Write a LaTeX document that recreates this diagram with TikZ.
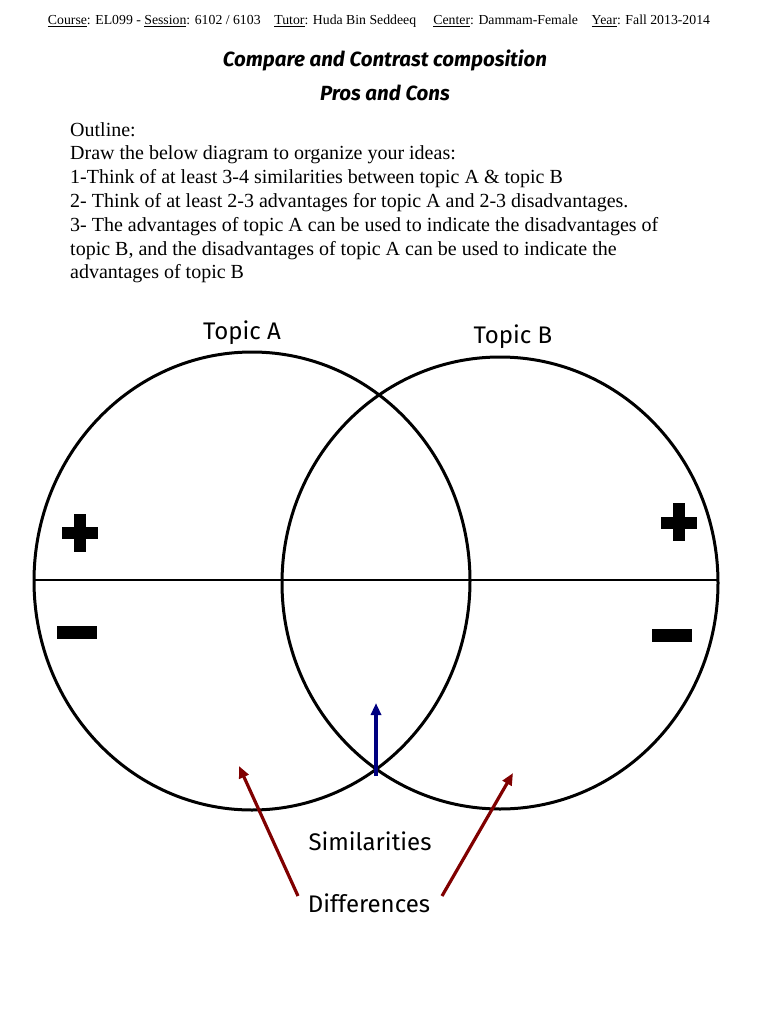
\documentclass[tikz,border=0pt]{standalone}
\usepackage{fontspec}
\setmainfont{Liberation Serif}
\newfontfamily\lbl{Fira Sans}
\newfontfamily\lblm{Fira Sans Medium}
\usetikzlibrary{arrows.meta}
\definecolor{darkred}{RGB}{128,0,0}
\definecolor{navy}{RGB}{0,0,128}
\tikzset{
 circ/.style={draw=black,line width=3pt},
 lab/.style={font=\lbl\fontsize{24}{28}\selectfont,inner sep=0},
 ttl/.style={font=\lbl\bfseries\itshape\fontsize{20.5}{24}\selectfont,inner sep=0},
 redarr/.style={draw=darkred,line width=3.2pt,-{Triangle[length=12pt,width=10pt]}},
 bluearr/.style={draw=navy,line width=3.2pt,-{Triangle[length=12pt,width=10pt]}},
 sym/.style={fill=black,draw=none}
}
\begin{document}
\begin{tikzpicture}[x=1pt,y=-1pt]
\useasboundingbox (0,0) rectangle (768,1024);
\node[inner sep=0,anchor=center] (hdr) at (379,21) {\resizebox{662pt}{!}{\fontsize{14}{16}\selectfont\underline{Course}: EL099 - \underline{Session}: 6102 / 6103\quad \underline{Tutor}: Huda Bin Seddeeq\quad\ \underline{Center}: Dammam-Female\quad \underline{Year}: Fall 2013-2014}};
\node[ttl] (t1) at (385,60) {Compare and Contrast composition};
\node[ttl] (t2) at (385,93) {Pros and Cons};
\node[anchor=north west,inner sep=0,align=left,font=\fontsize{20}{23.8}\selectfont] (outl) at (70,122) {Outline:\\
Draw the below diagram to organize your ideas:\\
1-Think of at least 3-4 similarities between topic A \& topic B\\
2- Think of at least 2-3 advantages for topic A and 2-3 disadvantages.\\
3- The advantages of topic A can be used to indicate the disadvantages of\\
topic B, and the disadvantages of topic A can be used to indicate the\\
advantages of topic B};
\draw[circ] (252,581) ellipse [x radius=218,y radius=229];
\draw[circ] (500,583) ellipse [x radius=218,y radius=226];
\coordinate (hl) at (34,580);
\coordinate (hr) at (718,580);
\draw[line width=1.8pt] (hl) -- (hr);
\node[lab] (ta) at (242,333) {Topic A};
\node[lab] (tb) at (513,337) {Topic B};
\fill[sym] (62,527) rectangle (98,539);
\fill[sym] (74,514) rectangle (86,552);
\fill[sym] (661,517) rectangle (697,529);
\fill[sym] (673,503) rectangle (685,541);
\fill[sym] (57,626) rectangle (97,639);
\fill[sym] (652,629) rectangle (692,642);
\node[lab] (sim) at (370,841) {Similarities};
\node[lab] (dif) at (369,903) {Differences};
\coordinate (bs) at (376,776);
\coordinate (be) at (376,703);
\draw[bluearr] (bs) -- (be);
\coordinate (r1e) at (239,766);
\coordinate (r2e) at (513,773);
\coordinate (r1s) at (298,896);
\coordinate (r2s) at (442,896);
\draw[redarr] (r1s) -- (r1e);
\draw[redarr] (r2s) -- (r2e);
\end{tikzpicture}
\end{document}
